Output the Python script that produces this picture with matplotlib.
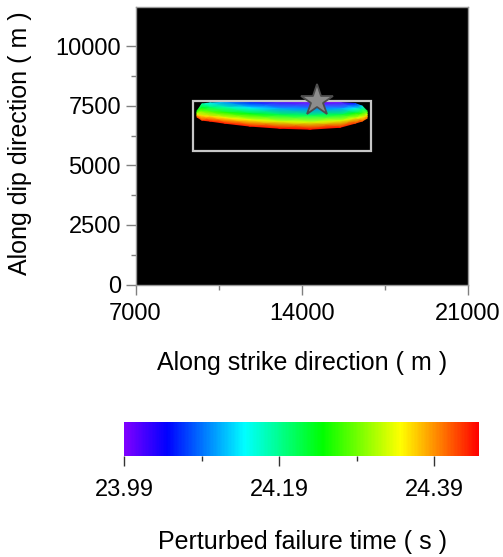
import numpy as np
import matplotlib
matplotlib.use('Agg')
import matplotlib.pyplot as plt
from matplotlib.colors import LinearSegmentedColormap
from matplotlib.patches import Rectangle

plt.rcParams['font.family'] = ['Liberation Sans', 'DejaVu Sans']

# rupture front
col_x = [9590, 9800, 10140, 10770, 11820, 13080, 14350, 15610, 16240, 16540, 16750]
top_y = [7280, 7580, 7620, 7650, 7660, 7660, 7660, 7640, 7600, 7490, 7280]
bot_y = [7030, 6900, 6860, 6770, 6650, 6560, 6520, 6600, 6770, 6860, 6980]

# failure time at 5 levels from the upper edge (row 0) to the lower edge (row 4)
t_row0 = [24.25, 24.18, 24.14, 24.10, 24.05, 24.01, 23.99, 24.00, 24.05, 24.13, 24.25]
t_row1 = [24.29, 24.24, 24.21, 24.18, 24.14, 24.11, 24.10, 24.11, 24.14, 24.20, 24.29]
t_row2 = [24.33, 24.30, 24.28, 24.26, 24.24, 24.22, 24.21, 24.22, 24.24, 24.27, 24.33]
t_row3 = [24.37, 24.36, 24.36, 24.35, 24.34, 24.33, 24.33, 24.33, 24.33, 24.34, 24.37]
t_row4 = [24.42, 24.43, 24.44, 24.44, 24.44, 24.445, 24.445, 24.44, 24.43, 24.42, 24.40]

hypo = (14650, 7700)
fault_box = (9400, 5600, 7500, 2100)   # x0, y0, width, height

xticks = [7000, 14000, 21000]
yticks = [0, 2500, 5000, 7500, 10000]
cticks = [23.99, 24.19, 24.39]
tmin, tmax = 23.99, 24.448

cmap = LinearSegmentedColormap.from_list(
    'fail', [(0, '#8000ff'), (0.12, '#0000ff'), (0.34, '#00ffff'),
             (0.56, '#00ff00'), (0.78, '#ffff00'), (1.0, '#ff0000')])

fig = plt.figure(figsize=(5.03, 5.57), dpi=100)
ax = fig.add_axes([135.5/503, 1 - 284.5/557, 332.5/503, 277.5/557])
ax.set_facecolor('black')

levels = np.linspace(0, 1, 5)[:, None]
top = np.array(top_y)
bot = np.array(bot_y)
X = np.tile(col_x, (5, 1))
Y = top + levels * (bot - top)
C = np.array([t_row0, t_row1, t_row2, t_row3, t_row4])
pc = ax.pcolormesh(X, Y, C, cmap=cmap, vmin=tmin, vmax=tmax, shading='gouraud')

ax.add_patch(Rectangle(fault_box[:2], fault_box[2], fault_box[3], fill=False,
                       edgecolor='0.78', lw=1.6))
ax.plot(*hypo, marker='*', ms=24, mfc='0.55', mec='0.3', mew=1.3)

ax.set_xlim(7000, 21000)
ax.set_ylim(0, 11650)
ax.set_xticks(xticks)
ax.set_yticks(yticks)
ax.set_xticks([10500, 17500], minor=True)
ax.set_yticks(np.arange(1250, 10001, 2500), minor=True)
ax.tick_params(which='major', length=7.5, width=1, color='0.5', labelsize=17)
ax.tick_params(axis='y', which='major', pad=3)
ax.tick_params(axis='x', which='major', pad=6)
ax.tick_params(which='minor', length=3.5, width=1, color='0.5')
for s in ax.spines.values():
    s.set_color('0.6')
    s.set_linewidth(1)

fig.text(302/503, 1 - 363/557, 'Along strike direction ( m )', ha='center', va='center', fontsize=18)
fig.text(20/503, 1 - 143/557, 'Along dip direction ( m )', ha='center', va='center',
         rotation=90, fontsize=18)

cax = fig.add_axes([124/503, 1 - 456/557, 355/503, 34/557])
cb = fig.colorbar(pc, cax=cax, orientation='horizontal')
cb.outline.set_visible(False)
cb.set_ticks(cticks)
cb.set_ticks([24.09, 24.29], minor=True)
cb.ax.set_xticklabels([f'{t:.2f}' for t in cticks])
cax.tick_params(which='major', length=7.5, width=1, color='0.2', labelsize=17, pad=9)
cax.tick_params(which='minor', length=3.5, width=1, color='0.2')
fig.text(302/503, 1 - 542/557, 'Perturbed failure time ( s )', ha='center', va='center', fontsize=18)

fig.savefig('out.png', dpi=100)
